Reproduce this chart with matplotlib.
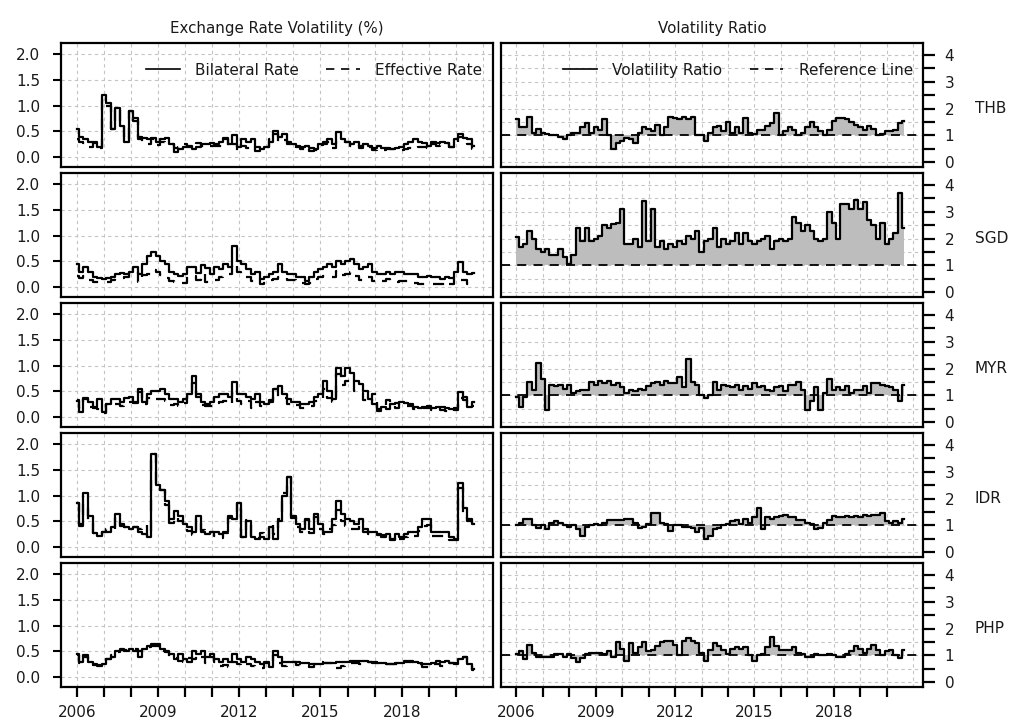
import numpy as np
import matplotlib.pyplot as plt
from matplotlib.lines import Line2D

plt.rcParams['font.family'] = ['DejaVu Sans']
plt.rcParams['font.size'] = 11

# Configuration
W, H        = 1024, 725
CURRENCIES  = ['THB', 'SGD', 'MYR', 'IDR', 'PHP']
YEAR_START  = 2006
TICK_YEARS  = list(range(2006, 2021))
GRID_YEARS  = list(range(2006, 2022))
LABEL_YEARS = [2006, 2009, 2012, 2015, 2018]
TEXT_COLOR  = '#1a1a1a'
GRID_COLOR  = '#c4c4c4'
FILL_COLOR  = '#bdbdbd'
DASH        = (0, (5, 4))
LW          = 1.6

# ─── DATA: bimonthly readings (Jan, Mar, May, Jul, Sep, Nov), one line per year ───
thb_bilateral = [
    0.55, 0.40, 0.35, 0.30, 0.30, 0.20,
    1.20, 1.05, 0.55, 0.95, 0.60, 0.30,
    0.90, 0.75, 0.40, 0.38, 0.35, 0.38,
    0.30, 0.35, 0.38, 0.25, 0.10, 0.15,
    0.20, 0.20, 0.15, 0.20, 0.25, 0.25,
    0.28, 0.25, 0.30, 0.38, 0.25, 0.42,
    0.20, 0.35, 0.30, 0.35, 0.20, 0.15,
    0.20, 0.30, 0.50, 0.40, 0.45, 0.30,
    0.25, 0.22, 0.20, 0.22, 0.18, 0.15,
    0.25, 0.30, 0.35, 0.25, 0.48, 0.35,
    0.30, 0.25, 0.30, 0.22, 0.25, 0.22,
    0.18, 0.22, 0.18, 0.18, 0.15, 0.18,
    0.20, 0.25, 0.30, 0.35, 0.30, 0.28,
    0.22, 0.30, 0.28, 0.30, 0.28, 0.20,
    0.35, 0.45, 0.38, 0.35, 0.22,
]
thb_effective = [
    0.35, 0.30, 0.27, 0.20, 0.27, 0.17,
    1.10, 1.00, 0.55, 0.95, 0.65, 0.33,
    0.90, 0.70, 0.35, 0.27, 0.25, 0.35,
    0.23, 0.30, 0.25, 0.25, 0.18, 0.20,
    0.25, 0.22, 0.18, 0.27, 0.22, 0.20,
    0.22, 0.22, 0.22, 0.36, 0.20, 0.25,
    0.12, 0.22, 0.18, 0.22, 0.12, 0.15,
    0.20, 0.35, 0.45, 0.30, 0.33, 0.26,
    0.17, 0.20, 0.15, 0.20, 0.11, 0.14,
    0.24, 0.25, 0.30, 0.18, 0.30, 0.28,
    0.30, 0.22, 0.23, 0.18, 0.25, 0.20,
    0.14, 0.15, 0.14, 0.16, 0.15, 0.15,
    0.13, 0.15, 0.18, 0.22, 0.20, 0.20,
    0.17, 0.25, 0.21, 0.24, 0.28, 0.19,
    0.30, 0.39, 0.32, 0.25, 0.16,
]
thb_ratio = [
    1.60, 1.30, 1.30, 1.70, 1.10, 1.25,
    1.10, 1.05, 1.00, 1.00, 0.95, 0.85,
    1.00, 1.10, 1.10, 1.30, 1.45, 1.10,
    1.30, 1.20, 1.60, 1.00, 0.50, 0.70,
    0.80, 0.90, 0.85, 0.70, 1.10, 1.30,
    1.25, 1.15, 1.40, 1.00, 1.30, 1.70,
    1.65, 1.60, 1.70, 1.60, 1.70, 1.00,
    1.00, 0.80, 1.10, 1.30, 1.35, 1.15,
    1.50, 1.10, 1.30, 1.10, 1.65, 1.10,
    1.05, 1.20, 1.20, 1.35, 1.45, 1.85,
    1.00, 1.15, 1.30, 1.20, 1.00, 1.10,
    1.30, 1.50, 1.30, 1.15, 1.00, 1.20,
    1.55, 1.65, 1.65, 1.60, 1.50, 1.40,
    1.30, 1.20, 1.35, 1.25, 1.00, 1.05,
    1.15, 1.15, 1.20, 1.45, 1.55,
]

sgd_bilateral = [
    0.45, 0.30, 0.40, 0.30, 0.20, 0.18,
    0.15, 0.17, 0.20, 0.25, 0.28, 0.25,
    0.30, 0.40, 0.25, 0.45, 0.60, 0.68,
    0.60, 0.50, 0.45, 0.30, 0.25, 0.22,
    0.25, 0.40, 0.40, 0.28, 0.42, 0.38,
    0.25, 0.40, 0.35, 0.45, 0.40, 0.80,
    0.50, 0.45, 0.35, 0.25, 0.30, 0.15,
    0.20, 0.25, 0.30, 0.45, 0.30, 0.25,
    0.25, 0.20, 0.20, 0.12, 0.20, 0.30,
    0.35, 0.40, 0.45, 0.40, 0.50, 0.45,
    0.50, 0.55, 0.45, 0.35, 0.40, 0.45,
    0.30, 0.25, 0.25, 0.30, 0.25, 0.30,
    0.30, 0.25, 0.25, 0.25, 0.20, 0.20,
    0.22, 0.20, 0.20, 0.15, 0.20, 0.18,
    0.30, 0.48, 0.30, 0.25, 0.28,
]
sgd_effective = [
    0.22, 0.18, 0.22, 0.13, 0.10, 0.11,
    0.10, 0.11, 0.14, 0.18, 0.18, 0.19,
    0.29, 0.29, 0.10, 0.24, 0.25, 0.34,
    0.30, 0.24, 0.18, 0.12, 0.10, 0.08,
    0.08, 0.22, 0.22, 0.14, 0.25, 0.11,
    0.13, 0.13, 0.20, 0.24, 0.25, 0.44,
    0.29, 0.24, 0.19, 0.12, 0.15, 0.07,
    0.13, 0.13, 0.15, 0.19, 0.18, 0.13,
    0.14, 0.11, 0.09, 0.07, 0.09, 0.16,
    0.19, 0.21, 0.22, 0.19, 0.31, 0.24,
    0.25, 0.29, 0.22, 0.13, 0.15, 0.20,
    0.12, 0.11, 0.12, 0.16, 0.12, 0.10,
    0.12, 0.12, 0.08, 0.08, 0.06, 0.06,
    0.07, 0.06, 0.07, 0.06, 0.10, 0.07,
    0.17, 0.13, 0.14, 0.07, 0.12,
]
sgd_ratio = [
    2.05, 1.70, 1.80, 2.30, 2.00, 1.60,
    1.50, 1.60, 1.40, 1.40, 1.60, 1.30,
    1.05, 1.40, 2.40, 1.90, 2.40, 1.90,
    2.00, 2.10, 2.50, 2.40, 2.55, 2.60,
    3.10, 1.80, 1.80, 2.00, 1.70, 3.40,
    1.90, 3.10, 1.70, 1.90, 1.60, 1.80,
    1.70, 1.90, 1.80, 2.10, 2.00, 2.30,
    1.50, 1.90, 2.00, 2.40, 1.70, 2.00,
    1.80, 1.90, 2.20, 1.80, 2.20, 1.90,
    1.80, 1.90, 2.00, 2.10, 1.60, 1.90,
    2.00, 1.90, 2.00, 2.80, 2.60, 2.30,
    2.50, 2.30, 2.00, 1.90, 2.00, 3.00,
    2.60, 2.00, 3.30, 3.30, 3.10, 3.45,
    3.10, 3.35, 2.70, 2.50, 2.00, 2.60,
    1.80, 2.00, 2.20, 3.70, 2.40,
]

myr_bilateral = [
    0.32, 0.10, 0.35, 0.30, 0.20, 0.35,
    0.10, 0.25, 0.35, 0.35, 0.30, 0.38,
    0.40, 0.30, 0.55, 0.30, 0.45, 0.50,
    0.50, 0.55, 0.45, 0.35, 0.35, 0.30,
    0.35, 0.45, 0.80, 0.45, 0.30, 0.25,
    0.30, 0.40, 0.45, 0.45, 0.40, 0.68,
    0.45, 0.45, 0.40, 0.35, 0.45, 0.30,
    0.25, 0.30, 0.55, 0.60, 0.45, 0.35,
    0.30, 0.30, 0.25, 0.25, 0.30, 0.40,
    0.45, 0.70, 0.50, 0.35, 0.95, 0.80,
    0.95, 0.85, 0.70, 0.65, 0.50, 0.35,
    0.25, 0.12, 0.20, 0.15, 0.25, 0.28,
    0.30, 0.28, 0.25, 0.20, 0.18, 0.20,
    0.22, 0.18, 0.20, 0.20, 0.18, 0.15,
    0.18, 0.48, 0.40, 0.20, 0.30,
]
myr_effective = [
    0.34, 0.18, 0.37, 0.20, 0.17, 0.16,
    0.08, 0.25, 0.25, 0.26, 0.21, 0.30,
    0.29, 0.27, 0.48, 0.25, 0.38, 0.33,
    0.36, 0.35, 0.31, 0.23, 0.25, 0.21,
    0.27, 0.41, 0.67, 0.39, 0.24, 0.21,
    0.22, 0.28, 0.30, 0.32, 0.26, 0.47,
    0.31, 0.26, 0.31, 0.18, 0.30, 0.21,
    0.25, 0.33, 0.55, 0.40, 0.38, 0.25,
    0.22, 0.23, 0.18, 0.21, 0.22, 0.32,
    0.31, 0.54, 0.37, 0.29, 0.83, 0.62,
    0.70, 0.74, 0.50, 0.46, 0.33, 0.29,
    0.45, 0.15, 0.15, 0.33, 0.23, 0.18,
    0.25, 0.22, 0.21, 0.15, 0.16, 0.17,
    0.18, 0.13, 0.18, 0.14, 0.12, 0.11,
    0.13, 0.37, 0.33, 0.25, 0.21,
]
myr_ratio = [
    0.95, 0.55, 0.95, 1.50, 1.20, 2.20,
    1.60, 0.45, 1.40, 1.35, 1.40, 1.25,
    1.40, 1.10, 1.15, 1.20, 1.20, 1.50,
    1.40, 1.55, 1.45, 1.55, 1.40, 1.45,
    1.30, 1.10, 1.20, 1.15, 1.25, 1.20,
    1.35, 1.45, 1.50, 1.40, 1.55, 1.45,
    1.45, 1.70, 1.30, 2.35, 1.50, 1.40,
    1.00, 0.90, 1.00, 1.50, 1.20, 1.40,
    1.35, 1.30, 1.40, 1.20, 1.35, 1.25,
    1.45, 1.30, 1.35, 1.20, 1.15, 1.30,
    1.35, 1.15, 1.40, 1.40, 1.50, 1.20,
    0.45, 0.80, 1.30, 0.45, 1.10, 1.60,
    1.20, 1.30, 1.20, 1.35, 1.10, 1.20,
    1.20, 1.35, 1.10, 1.45, 1.45, 1.40,
    1.35, 1.30, 1.20, 0.80, 1.40,
]

idr_bilateral = [
    0.85, 0.45, 1.05, 0.60, 0.28, 0.22,
    0.30, 0.30, 0.40, 0.65, 0.45, 0.40,
    0.35, 0.40, 0.30, 0.25, 0.20, 1.80,
    1.20, 1.10, 0.90, 0.55, 0.70, 0.60,
    0.45, 0.40, 0.30, 0.60, 0.30, 0.25,
    0.30, 0.30, 0.25, 0.30, 0.60, 0.55,
    0.85, 0.20, 0.50, 0.20, 0.15, 0.20,
    0.15, 0.40, 0.15, 0.50, 1.00, 1.35,
    0.60, 0.45, 0.35, 0.55, 0.35, 0.65,
    0.45, 0.30, 0.30, 0.55, 0.90, 0.65,
    0.55, 0.50, 0.45, 0.55, 0.35, 0.30,
    0.30, 0.25, 0.20, 0.25, 0.15, 0.25,
    0.20, 0.25, 0.30, 0.30, 0.40, 0.55,
    0.55, 0.30, 0.30, 0.30, 0.30, 0.20,
    0.15, 1.25, 0.75, 0.55, 0.45,
]
idr_effective = [
    0.85, 0.41, 0.84, 0.48, 0.28, 0.24,
    0.30, 0.35, 0.36, 0.57, 0.41, 0.40,
    0.37, 0.40, 0.35, 0.42, 0.21, 1.80,
    1.14, 1.10, 0.82, 0.46, 0.58, 0.50,
    0.38, 0.32, 0.24, 0.55, 0.33, 0.26,
    0.29, 0.21, 0.17, 0.27, 0.57, 0.69,
    0.85, 0.20, 0.53, 0.21, 0.17, 0.27,
    0.17, 0.45, 0.25, 0.55, 1.05, 1.35,
    0.57, 0.39, 0.29, 0.52, 0.28, 0.59,
    0.35, 0.25, 0.35, 0.42, 0.72, 0.50,
    0.41, 0.36, 0.35, 0.42, 0.29, 0.25,
    0.27, 0.24, 0.24, 0.28, 0.14, 0.21,
    0.15, 0.19, 0.23, 0.22, 0.31, 0.41,
    0.42, 0.21, 0.22, 0.21, 0.21, 0.14,
    0.13, 1.15, 0.65, 0.50, 0.36,
]
idr_ratio = [
    1.00, 1.10, 1.25, 1.25, 1.00, 0.90,
    1.00, 0.85, 1.10, 1.15, 1.10, 1.00,
    0.95, 1.00, 0.85, 0.60, 0.95, 1.00,
    1.05, 1.00, 1.10, 1.20, 1.20, 1.20,
    1.20, 1.25, 1.25, 1.10, 0.90, 0.95,
    1.05, 1.45, 1.45, 1.10, 1.05, 0.80,
    1.00, 1.00, 0.95, 0.95, 0.90, 0.75,
    0.90, 0.50, 0.60, 0.85, 0.90, 1.00,
    1.05, 1.15, 1.20, 1.05, 1.25, 1.10,
    1.30, 1.65, 0.85, 1.30, 1.25, 1.30,
    1.35, 1.40, 1.30, 1.30, 1.20, 1.20,
    1.10, 1.05, 0.85, 0.90, 1.10, 1.20,
    1.35, 1.30, 1.30, 1.35, 1.30, 1.35,
    1.30, 1.40, 1.35, 1.40, 1.40, 1.45,
    1.15, 1.10, 1.15, 1.10, 1.25,
]

php_bilateral = [
    0.45, 0.30, 0.40, 0.30, 0.25, 0.22,
    0.25, 0.35, 0.40, 0.50, 0.55, 0.50,
    0.55, 0.50, 0.40, 0.55, 0.60, 0.65,
    0.65, 0.55, 0.50, 0.45, 0.35, 0.45,
    0.35, 0.30, 0.50, 0.45, 0.50, 0.40,
    0.45, 0.35, 0.30, 0.35, 0.30, 0.45,
    0.35, 0.30, 0.40, 0.35, 0.30, 0.25,
    0.30, 0.20, 0.50, 0.40, 0.30, 0.30,
    0.30, 0.30, 0.28, 0.28, 0.25, 0.25,
    0.25, 0.28, 0.28, 0.28, 0.30, 0.30,
    0.30, 0.32, 0.32, 0.32, 0.32, 0.30,
    0.28, 0.27, 0.27, 0.26, 0.26, 0.27,
    0.28, 0.30, 0.30, 0.30, 0.28, 0.25,
    0.25, 0.28, 0.32, 0.30, 0.32, 0.28,
    0.28, 0.35, 0.40, 0.25, 0.15,
]
php_effective = [
    0.43, 0.28, 0.42, 0.25, 0.24, 0.23,
    0.26, 0.36, 0.42, 0.48, 0.52, 0.52,
    0.52, 0.55, 0.50, 0.58, 0.58, 0.60,
    0.60, 0.50, 0.48, 0.40, 0.37, 0.32,
    0.30, 0.37, 0.35, 0.42, 0.40, 0.28,
    0.40, 0.30, 0.22, 0.24, 0.20, 0.30,
    0.26, 0.30, 0.26, 0.22, 0.20, 0.18,
    0.28, 0.25, 0.42, 0.28, 0.22, 0.25,
    0.29, 0.24, 0.22, 0.22, 0.20, 0.25,
    0.30, 0.28, 0.27, 0.22, 0.18, 0.22,
    0.25, 0.27, 0.27, 0.25, 0.29, 0.29,
    0.29, 0.28, 0.26, 0.26, 0.26, 0.26,
    0.28, 0.31, 0.31, 0.29, 0.25, 0.19,
    0.20, 0.25, 0.26, 0.22, 0.27, 0.28,
    0.25, 0.30, 0.40, 0.28, 0.13,
]
php_ratio = [
    1.05, 1.15, 0.85, 1.40, 1.10, 0.95,
    0.95, 0.95, 0.95, 1.05, 1.05, 0.95,
    1.05, 0.90, 0.75, 0.90, 1.05, 1.10,
    1.10, 1.10, 1.05, 1.15, 0.95, 1.50,
    1.25, 0.80, 1.45, 1.10, 1.30, 1.50,
    1.15, 1.20, 1.35, 1.50, 1.55, 1.55,
    1.40, 1.00, 1.55, 1.65, 1.55, 1.45,
    1.10, 0.80, 1.20, 1.45, 1.35, 1.20,
    1.05, 1.25, 1.30, 1.25, 1.30, 1.00,
    0.80, 1.00, 1.05, 1.30, 1.70, 1.35,
    1.20, 1.20, 1.20, 1.30, 1.10, 1.05,
    0.95, 0.95, 1.05, 1.00, 1.00, 1.05,
    1.00, 0.95, 0.95, 1.05, 1.15, 1.35,
    1.25, 1.10, 1.25, 1.40, 1.20, 1.00,
    1.15, 1.20, 1.00, 0.90, 1.20,
]

SERIES = {
    'THB': (thb_bilateral, thb_effective, thb_ratio),
    'SGD': (sgd_bilateral, sgd_effective, sgd_ratio),
    'MYR': (myr_bilateral, myr_effective, myr_ratio),
    'IDR': (idr_bilateral, idr_effective, idr_ratio),
    'PHP': (php_bilateral, php_effective, php_ratio),
}


def years_for(values):
    # one observation every two months starting January 2006
    return YEAR_START + np.arange(len(values)) / 6.0


def style_box(ax):
    for sp in ax.spines.values():
        sp.set_linewidth(1.6)
        sp.set_color('black')
    ax.set_xlim(2005.42, 2021.37)
    for yr in GRID_YEARS:
        ax.axvline(yr, color=GRID_COLOR, ls=(0, (3, 3)), lw=0.8, zorder=0)


# ─── FIGURE ────────────────────────────────────────────────────────────────────
fig = plt.figure(figsize=(W / 100, H / 100), dpi=100)
tops = [43, 173, 303, 433, 563]
ph = 124

for i, cur in enumerate(CURRENCIES):
    bil, eff, ratio = SERIES[cur]
    bottom = 1 - (tops[i] + ph) / H
    axl = fig.add_axes([61 / W, bottom, 432 / W, ph / H])
    axr = fig.add_axes([501 / W, bottom, 422 / W, ph / H])

    # left: volatility levels
    style_box(axl)
    axl.set_ylim(-0.19, 2.21)
    for v in [0, 0.5, 1.0, 1.5, 2.0]:
        axl.axhline(v, color=GRID_COLOR, ls=(0, (3, 3)), lw=0.8, zorder=0)
    axl.plot(years_for(eff), eff, color='black', lw=LW, ls=DASH, drawstyle='steps-mid', zorder=3)
    axl.plot(years_for(bil), bil, color='black', lw=LW, drawstyle='steps-mid', zorder=4)
    axl.set_yticks([0, 0.5, 1.0, 1.5, 2.0])
    axl.set_yticklabels(['0.0', '0.5', '1.0', '1.5', '2.0'])
    axl.tick_params(axis='y', direction='out', length=6, width=1.5, pad=9,
                    labelsize=11, labelcolor=TEXT_COLOR)

    # right: volatility ratio
    style_box(axr)
    axr.set_ylim(-0.18, 4.45)
    for v in np.arange(0, 4.01, 0.5):
        axr.axhline(v, color=GRID_COLOR, ls=(0, (3, 3)), lw=0.8, zorder=0)
    xr = years_for(ratio)
    ra = np.array(ratio)
    axr.fill_between(xr, ra, 1, color=FILL_COLOR, lw=0, step='mid', zorder=1)
    axr.axhline(1, color='black', lw=1.3, ls=DASH, zorder=3)
    axr.plot(xr, ra, color='black', lw=LW, drawstyle='steps-mid', zorder=4)
    axr.yaxis.tick_right()
    axr.set_yticks([0, 1, 2, 3, 4])
    axr.set_yticks([0.5, 1.5, 2.5, 3.5], minor=True)
    axr.tick_params(axis='y', which='both', direction='out', length=8.6, width=1.6,
                    pad=7, labelsize=11, labelcolor=TEXT_COLOR)
    axr.annotate(cur, xy=(1.123, 2), xycoords=('axes fraction', 'data'),
                 ha='left', va='center', fontsize=11, color=TEXT_COLOR)

    for ax in (axl, axr):
        ax.set_xticks(TICK_YEARS)
        if i == len(CURRENCIES) - 1:
            ax.set_xticklabels([str(y) if y in LABEL_YEARS else '' for y in TICK_YEARS])
            ax.tick_params(axis='x', direction='out', length=7.2, width=1.6, pad=5.5,
                           labelsize=11, labelcolor=TEXT_COLOR)
        else:
            ax.tick_params(axis='x', length=0, labelbottom=False)

    if i == 0:
        axl.set_title('Exchange Rate Volatility (%)', fontsize=10.8, color=TEXT_COLOR, pad=7)
        axr.set_title('Volatility Ratio', fontsize=10.8, color=TEXT_COLOR, pad=7)
        hl = [Line2D([], [], color='black', lw=1.2), Line2D([], [], color='black', lw=1.2, ls=DASH)]
        axl.legend(hl, ['Bilateral Rate', 'Effective Rate'], ncol=2, frameon=False,
                   loc='center right', bbox_to_anchor=(0.975, 0.78), borderpad=0,
                   borderaxespad=0, handlelength=2.2, handletextpad=1.0,
                   columnspacing=1.8, fontsize=11, labelcolor=TEXT_COLOR)
        axr.legend(hl, ['Volatility Ratio', 'Reference Line'], ncol=2, frameon=False,
                   loc='center right', bbox_to_anchor=(0.976, 0.78), borderpad=0,
                   borderaxespad=0, handlelength=2.2, handletextpad=1.0,
                   columnspacing=1.8, fontsize=11, labelcolor=TEXT_COLOR)

fig.savefig('out.png', dpi=100, facecolor='white')
